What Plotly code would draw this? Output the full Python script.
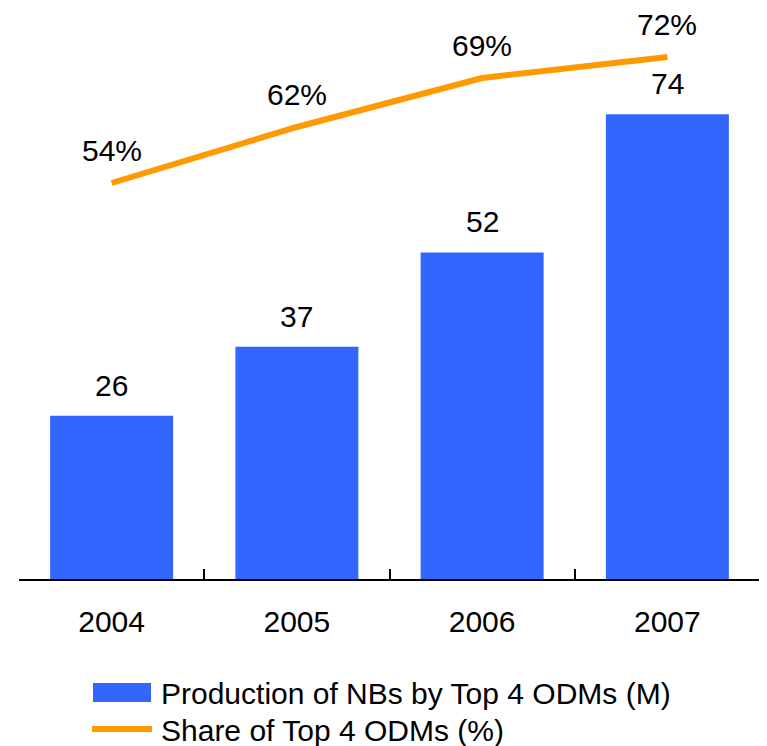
import plotly.graph_objects as go

years = ["2004", "2005", "2006", "2007"]
production_m = [26, 37, 52, 74]
share_pct = [54, 62, 69, 72]

bar_name = "Production of NBs by Top 4 ODMs (M)"
line_name = "Share of Top 4 ODMs (%)"

BLUE = "#3366FF"
ORANGE = "#FF9900"
FONT = "Liberation Sans, Arial, sans-serif"
FS = 30

# page body has an 8px margin; size the figure so it fits the 767x746 window
OFF = 8
W, H = 767 - OFF, 746 - OFF
ML, MR, MT = 19 - OFF, 7, 20 - OFF
PLOT_BOTTOM = 579 - OFF
MB = H - PLOT_BOTTOM
PW = W - ML - MR
PH = H - MT - MB


def px_x(px):
    return (px - OFF - ML) / PW


def px_y(py):
    return (PLOT_BOTTOM - (py - OFF)) / PH


fig = go.Figure()
fig.add_trace(go.Bar(x=years, y=production_m, name=bar_name, marker_color=BLUE,
                     marker_line_width=0, width=0.664, showlegend=False))
fig.add_trace(go.Scatter(x=years, y=share_pct, name=line_name, yaxis="y2", mode="lines",
                         line=dict(color=ORANGE, width=6), showlegend=False))

annotations = []
for i, v in enumerate(production_m):
    annotations.append(dict(x=i, y=v, xref="x", yref="y", text=str(v), showarrow=False,
                            yanchor="bottom", yshift=12, font=dict(size=FS, color="black", family=FONT)))
for i, v in enumerate(share_pct):
    annotations.append(dict(x=i, y=v, xref="x", yref="y2", text=f"{v}%", showarrow=False,
                            yanchor="bottom", yshift=14, font=dict(size=FS, color="black", family=FONT)))

# custom legend
annotations.append(dict(x=px_x(159), y=px_y(693), xref="paper", yref="paper", text=bar_name,
                        showarrow=False, xanchor="left", yanchor="middle",
                        font=dict(size=FS, color="black", family=FONT)))
annotations.append(dict(x=px_x(159), y=px_y(730), xref="paper", yref="paper", text=line_name,
                        showarrow=False, xanchor="left", yanchor="middle",
                        font=dict(size=FS, color="black", family=FONT)))

shapes = [
    dict(type="rect", xref="paper", yref="paper", x0=px_x(93), x1=px_x(151),
         y0=px_y(702), y1=px_y(683), fillcolor=BLUE, line_width=0),
    dict(type="line", xref="paper", yref="paper", x0=px_x(92), x1=px_x(152),
         y0=px_y(729), y1=px_y(729), line=dict(color=ORANGE, width=6)),
]

fig.update_layout(
    width=W, height=H,
    margin=dict(l=ML, r=MR, t=MT, b=MB, pad=0),
    paper_bgcolor="white", plot_bgcolor="white",
    font=dict(family=FONT, size=FS, color="black"),
    xaxis=dict(type="category", range=[-0.5, 3.5], autorange=False, automargin=False,
               showline=True, linecolor="black", linewidth=2,
               ticks="inside", ticklen=10, tickwidth=2, tickcolor="black",
               tickson="boundaries", showgrid=False, zeroline=False, tickangle=0,
               tickfont=dict(size=FS, color="black", family=FONT), ticklabelstandoff=15),
    yaxis=dict(range=[0, PH / 6.28], visible=False, showgrid=False, zeroline=False,
               automargin=False),
    yaxis2=dict(range=[-18 / 7, -18 / 7 + PH / 7], overlaying="y", visible=False,
                showgrid=False, zeroline=False, automargin=False),
    annotations=annotations,
    shapes=shapes,
    showlegend=False,
)

fig.write_html("out.html")
